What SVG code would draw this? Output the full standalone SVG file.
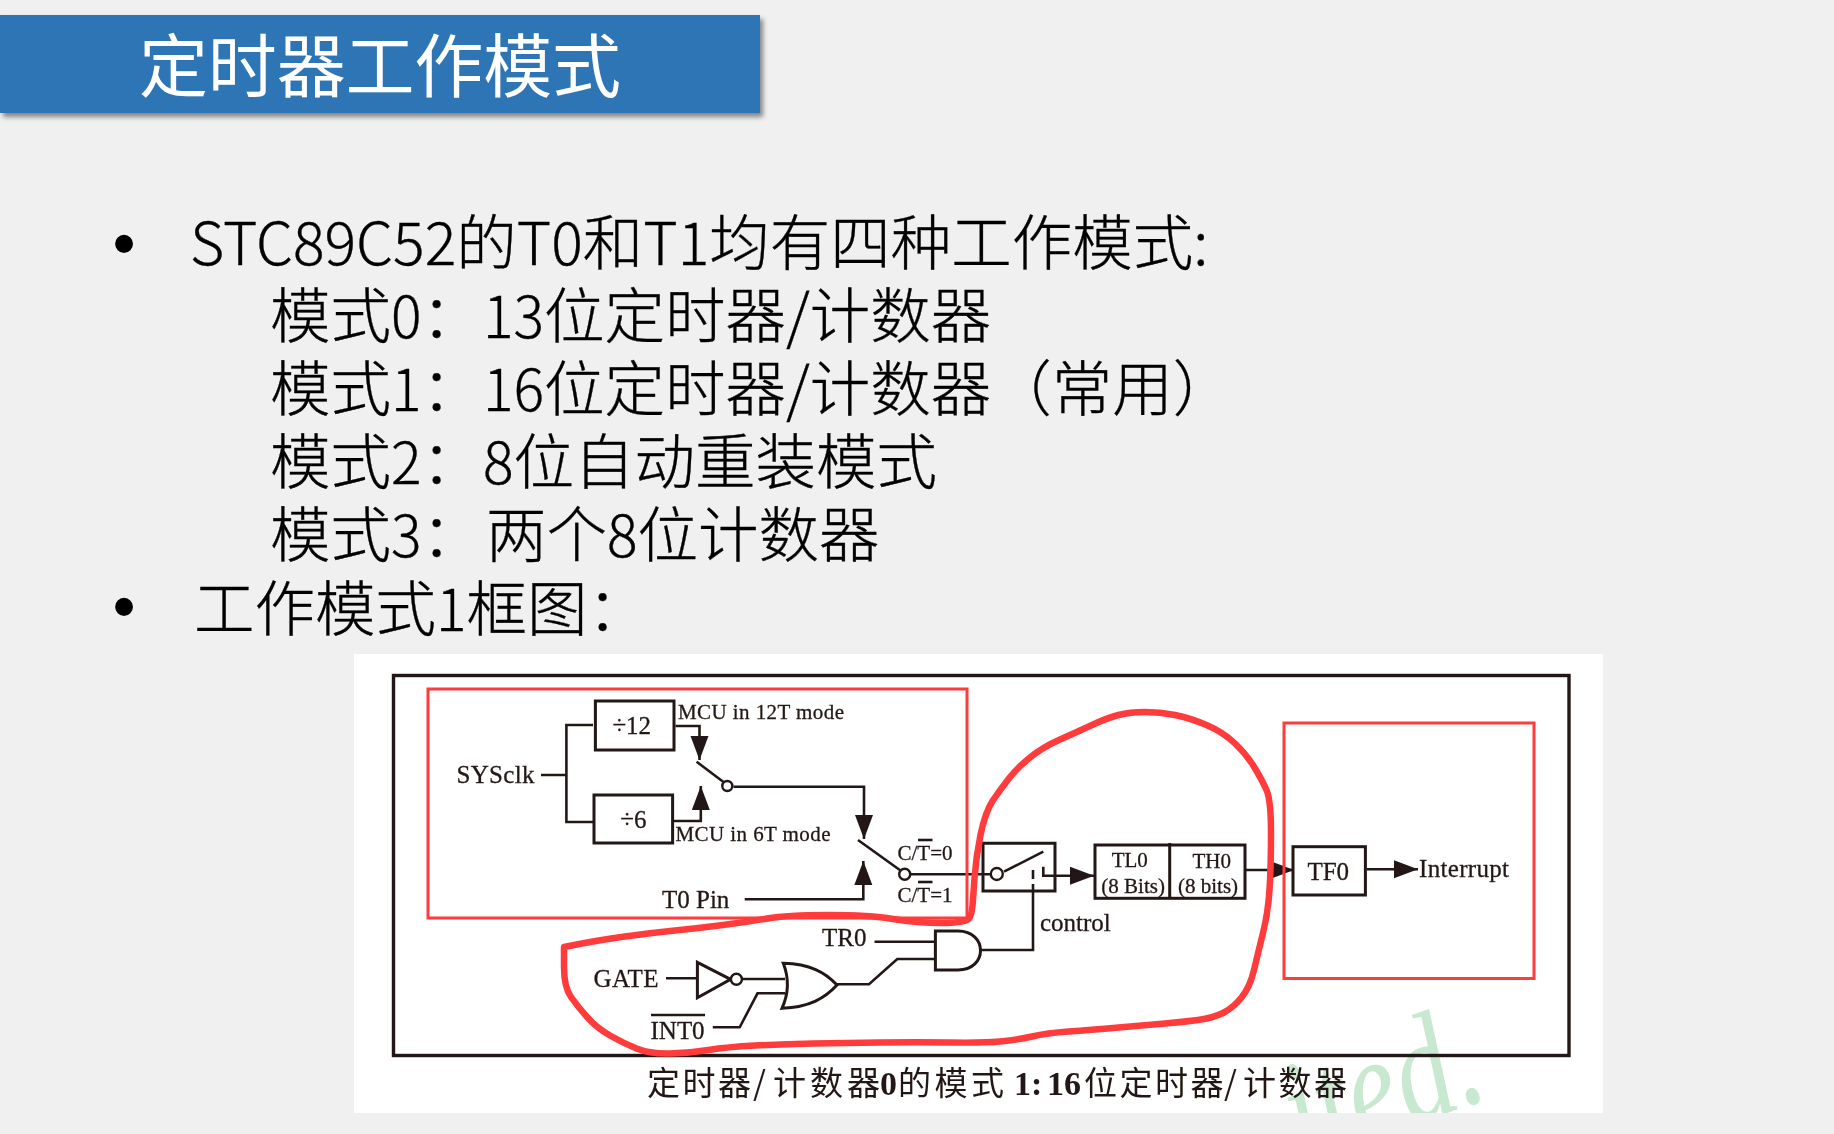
<svg xmlns="http://www.w3.org/2000/svg" width="1834" height="1134" viewBox="0 0 1834 1134">
<style>
.m{font-family:"Noto Sans CJK SC","Noto Sans",sans-serif;font-size:60.5px;font-weight:300;fill:#000;stroke:#000;stroke-width:.35}
.l{font-size:57px}
.l1{font-size:59px}
.bu{font-family:"Liberation Sans",sans-serif;font-size:66px;fill:#000}
.s{font-family:"Liberation Serif","Noto Sans CJK SC",serif;fill:#231815;font-size:25px;stroke:#231815;stroke-width:.3}
.sm{font-size:21px}
.w{fill:none;stroke:#231815;stroke-width:2.6}
.a{marker-end:url(#ah)}
.b{fill:#fff;stroke:#231815;stroke-width:3}
.r{fill:none;stroke:#FF3B3B;stroke-width:3}
.c{font-family:"Noto Sans CJK SC",sans-serif;font-size:33px;fill:#231815;letter-spacing:2.5px}
.cb{font-family:"Liberation Serif",serif;font-size:34px;font-weight:700;letter-spacing:0}
</style>
<defs>
<marker id="ah" markerUnits="userSpaceOnUse" markerWidth="26" markerHeight="20" refX="24" refY="9" orient="auto"><path d="M0 0L24 9L0 18Z" fill="#231815"/></marker>
<filter id="sh" x="-2%" y="-10%" width="104%" height="125%"><feDropShadow dx="3" dy="4" stdDeviation="2.5" flood-color="#000" flood-opacity=".45"/></filter>
<filter id="soft"><feGaussianBlur stdDeviation=".45"/></filter>
<clipPath id="pic"><rect x="354" y="654" width="1249" height="459"/></clipPath>
</defs>
<rect width="1834" height="1134" fill="#F0F0F0"/>
<g id="title"><rect x="0" y="15" width="760" height="98" fill="#2E75B6" filter="url(#sh)"/>
<text x="139" y="92" font-family="Noto Sans CJK SC,sans-serif" font-size="69" font-weight="400" fill="#fff" textLength="482">定时器工作模式</text></g>
<g id="body">
<text class="bu" x="112.5" y="266">•</text>
<text class="m" x="190" y="265"><tspan class="l1">STC89C52</tspan>的<tspan class="l1">T0</tspan>和<tspan class="l1">T1</tspan>均有四种工作模式:</text>
<text class="m" x="270" y="338">模式<tspan class="l">0</tspan>：<tspan class="l" x="483">13</tspan>位定时器/计数器</text>
<text class="m" x="270" y="411">模式<tspan class="l">1</tspan>：<tspan class="l" x="483">16</tspan>位定时器/计数器（常用）</text>
<text class="m" x="270" y="484">模式<tspan class="l">2</tspan>：<tspan class="l" x="483">8</tspan>位自动重装模式</text>
<text class="m" x="270" y="557">模式<tspan class="l">3</tspan>：<tspan x="486">两个</tspan><tspan class="l">8</tspan>位计数器</text>
<text class="bu" x="112.5" y="629">•</text>
<text class="m" x="194" y="631">工作模式<tspan class="l">1</tspan>框图：</text>
</g>
<rect id="figure-bg" x="354" y="654" width="1249" height="459" fill="#fff"/>
<g clip-path="url(#pic)"><text id="watermark" transform="translate(1491 1097) rotate(-20) scale(.76 1)" text-anchor="end" font-family="Liberation Serif,serif" font-style="italic" font-size="150" fill="#C9E8D0">ited.</text></g>
<g id="figure" filter="url(#soft)">
<rect id="frame" x="393.5" y="675.5" width="1175.5" height="380" fill="none" stroke="#231815" stroke-width="3.4"/>
<g id="connectors">
<path class="w" d="M541 775H566.4M593 725H566.4V822H593"/>
<path class="w a" d="M675.5 726H699.5V760"/>
<path class="w a" d="M673.4 821H700.8V786"/>
<path class="w a" d="M733.5 786.7H864V839"/>
<path class="w a" d="M744.7 899.3H863.3V861"/>
<path class="w" d="M696.6 761.7L723.5 782M858 840L900.5 870.5M910 874.3H990"/>
<path class="w a" d="M1043.3 866.7V875.7H1094"/>
<path class="w" d="M1033 870V879M1033 884V950H981"/>
<path class="w a" d="M1245 870H1294"/>
<path class="w a" d="M1366.7 869.3H1418"/>
<path class="w" d="M874.5 941.7H935.4M837 984.3H869L897.3 959H935.4"/>
<path class="w" d="M666 978.3H697.4M741.8 979H785M712.8 1027.3H739.7L757.5 993.3H785"/>
</g>
<g id="div12"><rect class="b" x="595.4" y="701" width="78.6" height="49"/><text class="s" x="612.4" y="733.5">÷12</text></g>
<g id="div6"><rect class="b" x="594" y="795" width="78.6" height="48"/><text class="s" x="620.3" y="827.5">÷6</text></g>
<g id="sysclk"><text class="s" x="456.5" y="782.5" textLength="78">SYSclk</text></g>
<g id="mcu12"><text class="s sm" x="678" y="719" textLength="166">MCU in 12T mode</text></g>
<g id="mcu6"><text class="s sm" x="675.5" y="840.5" textLength="155">MCU in 6T mode</text></g>
<g id="t0pin"><text class="s" x="662" y="907.5">T0 Pin</text></g>
<g id="sw1"><circle cx="727.3" cy="786" r="5" fill="#fff" stroke="#231815" stroke-width="2.4"/></g>
<g id="sw2"><circle cx="904.7" cy="874.3" r="5.5" fill="#fff" stroke="#231815" stroke-width="2.4"/></g>
<g id="ct0"><text class="s sm" x="897.5" y="860">C/T=0</text><path class="w" d="M918 840H932.5"/></g>
<g id="ct1"><text class="s sm" x="897.5" y="902">C/T=1</text><path class="w" d="M918 882H932.5"/></g>
<g id="gate-switch"><path class="b" style="fill:none" d="M983 843.3H1055V891H983Z"/><circle cx="996.8" cy="874" r="6" fill="#fff" stroke="#231815" stroke-width="2.4"/><path class="w" d="M1004 871.7L1043.3 851.7"/></g>
<g id="timer"><rect class="b" x="1095" y="845" width="150" height="53.3"/><path class="b" d="M1169.7 843V899"/>
<text class="s sm" x="1111.7" y="866.5">TL0</text><text class="s sm" x="1101.3" y="893">(8 Bits)</text>
<text class="s sm" x="1192.5" y="867.5">TH0</text><text class="s sm" x="1178" y="893">(8 bits)</text></g>
<g id="tf0"><rect class="b" x="1293" y="846.7" width="72.4" height="48.3"/><text class="s" x="1307.4" y="880">TF0</text></g>
<g id="interrupt"><text class="s" x="1419" y="877" textLength="90">Interrupt</text></g>
<g id="control"><text class="s" x="1040" y="930.5">control</text></g>
<g id="tr0"><text class="s" x="822" y="945.5">TR0</text></g>
<g id="and-gate"><path class="b" d="M935.4 931H958C988 931 988 970 958 970H935.4Z"/></g>
<g id="or-gate"><path class="b" d="M783.3 963.3C810 964 825 972 837 985C825 998 810 1007 782 1008.3C789 993 789 978 783.3 963.3Z"/></g>
<g id="inverter"><path class="b" d="M697.4 962.3L730.6 979.3L697.4 997.7Z"/><circle cx="736.4" cy="979.3" r="5.5" fill="#fff" stroke="#231815" stroke-width="2.4"/></g>
<g id="gate"><text class="s" x="593.5" y="987" textLength="65">GATE</text></g>
<g id="int0"><text class="s" x="650.6" y="1039" textLength="54">INT0</text><path class="w" d="M651 1015H705"/></g>
<text id="caption" class="c" y="1095"><tspan x="647">定时器</tspan><tspan x="753">/</tspan><tspan x="773" style="letter-spacing:4px">计数器</tspan><tspan class="cb" x="880">0</tspan><tspan x="898" style="letter-spacing:3.5px">的模式</tspan><tspan class="cb" x="1014">1:</tspan><tspan class="cb" x="1047">16</tspan><tspan x="1084">位定时器</tspan><tspan x="1224">/</tspan><tspan x="1243">计数器</tspan></text>
</g>
<g id="annotations">
<rect class="r" x="428" y="689" width="539" height="229"/>
<rect class="r" x="1284" y="723" width="250" height="255.5"/>
<path fill="none" stroke="#FF3B3B" stroke-width="6.5" stroke-linejoin="round" stroke-linecap="round" d="M564 947L582 943.5Q600 940 625 936.5Q650 933 675 930.5Q700 928 723 925Q747 922 767 918.5Q787 915 828 915Q870 915 893 919Q917 923 942 923Q967 923 969.5 918Q972 913 972.5 906Q973 900 974.5 878Q976 857 980.5 835Q985 813 992.5 801Q1000 790 1008.5 779Q1017 768 1030 757.5Q1043 747 1060 739.5Q1077 732 1092 725Q1107 718 1118.5 715Q1130 712 1145 712Q1160 712 1175 715Q1190 718 1206.5 725Q1223 732 1235 743.5Q1247 755 1254.5 767.5Q1262 780 1266.5 790Q1271 800 1271 833Q1271 867 1269.5 890Q1268 913 1263 933Q1258 953 1254 970Q1250 987 1241.5 997.5Q1233 1008 1223 1013Q1213 1018 1198 1020Q1183 1022 1165 1023.5Q1147 1025 1118.5 1027.5Q1090 1030 1068.5 1031.5Q1047 1033 1032 1036.5Q1017 1040 1000 1041.5Q983 1043 950 1042.5Q917 1042 880 1042.5Q843 1043 813 1043.5Q783 1044 755 1045.5Q727 1047 708.5 1050Q690 1053 670 1053.5Q650 1054 636.5 1048.5Q623 1043 610 1035.5Q597 1028 587.5 1017.5Q578 1007 571 997Q564 987 564 967Z"/>
</g>
</svg>
